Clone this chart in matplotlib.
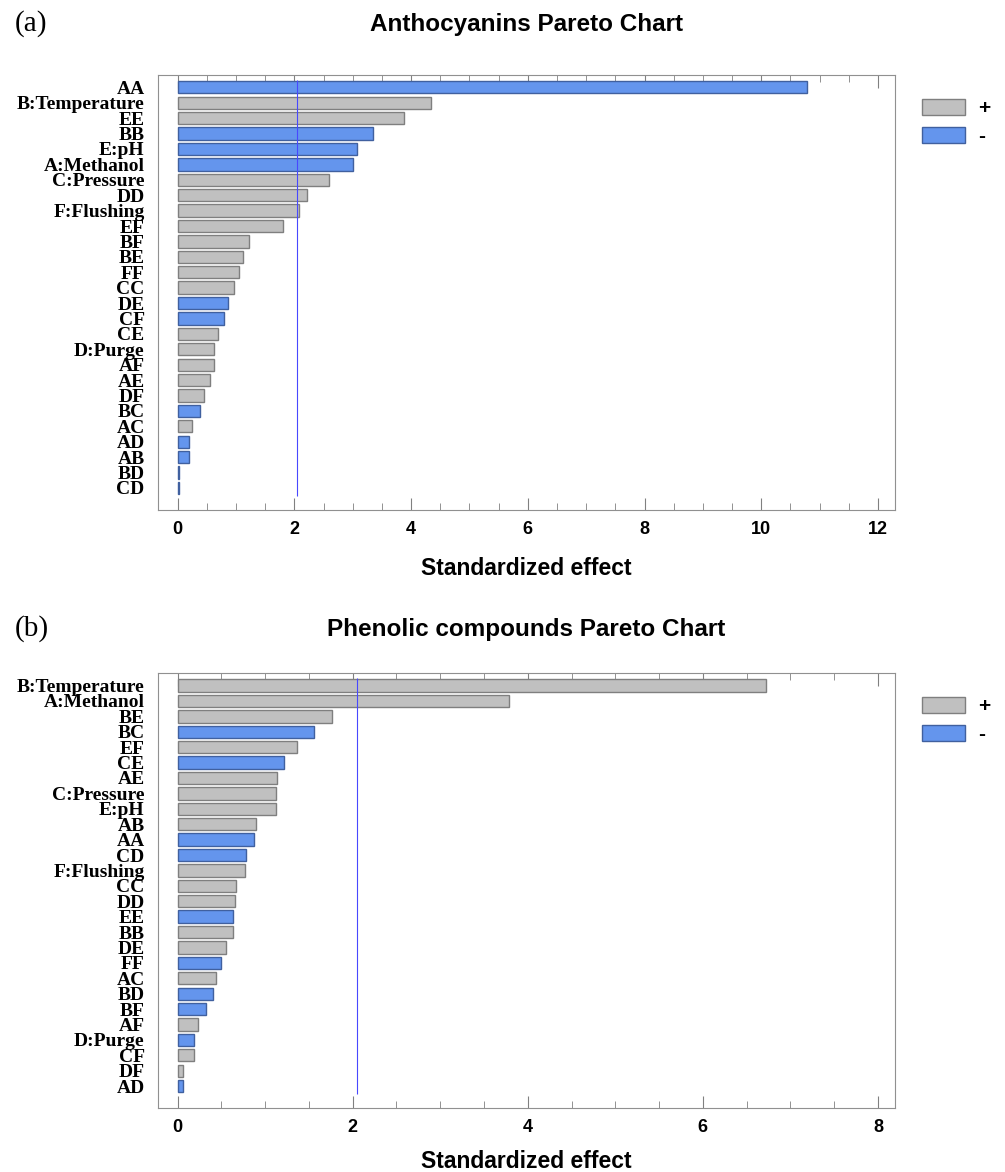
import numpy as np
import matplotlib
matplotlib.use('Agg')
import matplotlib.pyplot as plt
import matplotlib.patches as patches
from matplotlib.ticker import MultipleLocator

# (a) anthocyanins
terms_a = ['AA', 'B:Temperature', 'EE', 'BB', 'E:pH', 'A:Methanol', 'C:Pressure', 'DD',
           'F:Flushing', 'EF', 'BF', 'BE', 'FF', 'CC', 'DE', 'CF', 'CE', 'D:Purge', 'AF',
           'AE', 'DF', 'BC', 'AC', 'AD', 'AB', 'BD', 'CD']
effect_a = [10.78, 4.35, 3.88, 3.35, 3.08, 3.01, 2.59, 2.22, 2.08, 1.80, 1.22, 1.12, 1.05,
            0.96, 0.86, 0.79, 0.69, 0.62, 0.62, 0.55, 0.45, 0.38, 0.25, 0.19, 0.19, 0.02, 0.02]
sign_a = ['-', '+', '+', '-', '-', '-', '+', '+', '+', '+', '+', '+', '+', '+', '-', '-', '+',
          '+', '+', '+', '+', '-', '+', '-', '-', '-', '-']

# (b) phenolic compounds
terms_b = ['B:Temperature', 'A:Methanol', 'BE', 'BC', 'EF', 'CE', 'AE', 'C:Pressure', 'E:pH',
           'AB', 'AA', 'CD', 'F:Flushing', 'CC', 'DD', 'EE', 'BB', 'DE', 'FF', 'AC', 'BD',
           'BF', 'AF', 'D:Purge', 'CF', 'DF', 'AD']
effect_b = [6.72, 3.79, 1.76, 1.56, 1.36, 1.21, 1.13, 1.12, 1.12, 0.90, 0.87, 0.78, 0.77,
            0.67, 0.66, 0.63, 0.63, 0.55, 0.50, 0.44, 0.40, 0.32, 0.23, 0.19, 0.19, 0.065, 0.06]
sign_b = ['+', '+', '+', '-', '+', '-', '+', '+', '+', '+', '-', '-', '+', '+', '+', '-', '+',
          '+', '-', '+', '-', '-', '+', '-', '+', '+', '-']

t_crit = 2.05

POS = ('#c0c0c0', '#7f7f7f')
NEG = ('#6495ed', '#40609f')
SANS = ['Liberation Sans Narrow', 'Liberation Sans', 'DejaVu Sans']
SERIF = ['Liberation Serif', 'DejaVu Serif']


def pareto(ax, terms, effect, sign, xmax, tag, title, title_pad, tag_y, xlab_pad):
    n = len(terms)
    y = np.arange(n)
    fc = [POS[0] if s == '+' else NEG[0] for s in sign]
    ec = [POS[1] if s == '+' else NEG[1] for s in sign]
    ax.barh(y, effect, height=0.8, color=fc, edgecolor=ec, linewidth=1.0, zorder=2)
    ax.vlines(t_crit, -0.5, n - 0.5, color='#4848ff', linewidth=0.8, zorder=3)
    ax.set_ylim(n - 1 + 1.42, -0.8)
    ax.set_xlim(-0.34 * xmax / 12, xmax + 0.3 * xmax / 12)
    ax.set_yticks(y)
    ax.set_yticklabels(terms, family=SERIF, fontweight='bold', fontsize=14)
    ax.tick_params(axis='y', length=0, pad=9.5)
    ax.xaxis.set_major_locator(MultipleLocator(2))
    ax.xaxis.set_minor_locator(MultipleLocator(0.5))
    ax.tick_params(axis='x', which='both', direction='in', top=True, colors='#808080',
                   labelcolor='black', pad=8)
    ax.tick_params(axis='x', which='major', length=9)
    ax.tick_params(axis='x', which='minor', length=5)
    for lab in ax.get_xticklabels():
        lab.set_family(SANS)
        lab.set_fontweight('bold')
        lab.set_fontsize(13)
    for sp in ax.spines.values():
        sp.set_color('#909090')
    ax.set_xlabel('Standardized effect', family=SANS, fontweight='bold', fontsize=16.5,
                  labelpad=xlab_pad)
    ax.set_title(title, family=SANS, fontweight='bold', fontsize=17.5, pad=title_pad)
    ax.text(-0.194, tag_y, tag, transform=ax.transAxes, family=SERIF, fontsize=21,
            va='center', ha='left')
    h = [patches.Patch(facecolor=POS[0], edgecolor=POS[1], label='+'),
         patches.Patch(facecolor=NEG[0], edgecolor=NEG[1], label='-')]
    ax.legend(handles=h, loc='upper left', bbox_to_anchor=(1.011, 0.988), frameon=False,
              handlelength=2.07, handleheight=0.82, handletextpad=0.6, labelspacing=0.4,
              prop={'family': SANS, 'weight': 'bold', 'size': 15})


fig = plt.figure(figsize=(10.05, 11.72), dpi=100)
ax1 = fig.add_axes([0.157, 0.565, 0.734, 0.371])
ax2 = fig.add_axes([0.157, 0.0546, 0.734, 0.371])
pareto(ax1, terms_a, effect_a, sign_a, 12, '(a)', 'Anthocyanins Pareto Chart', 32, 1.118, 14)
pareto(ax2, terms_b, effect_b, sign_b, 8, '(b)', 'Phenolic compounds Pareto Chart', 27, 1.103, 10)

fig.savefig('out.png', dpi=100)
